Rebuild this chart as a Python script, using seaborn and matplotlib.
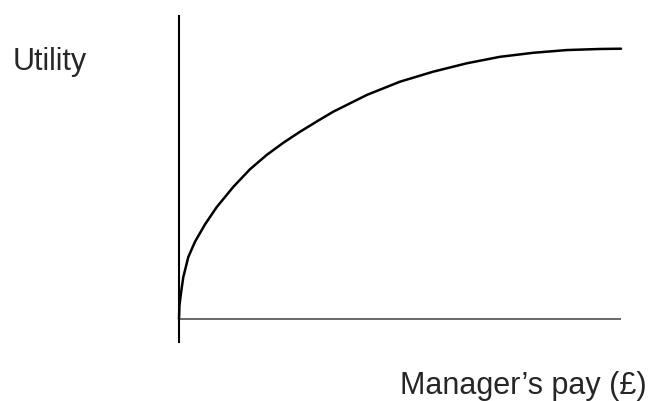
import matplotlib
matplotlib.use("Agg")
import matplotlib.pyplot as plt
import seaborn as sns

sns.set_style("white")
plt.rcParams["font.family"] = ["Liberation Sans", "DejaVu Sans"]

# concave utility curve (pay 0-100, utility 0-100)
pay = [0, 0.1, 0.45, 0.97, 2.1, 3.62, 5.88, 8.53, 12.29, 16.06, 19.84,
       23.6, 27.4, 31.5, 34.9, 42.5, 50.0, 57.5, 65.1, 72.6, 80.2, 87.7,
       95.2, 100]
utility = [0, 5.0, 9.6, 15.5, 22.9, 28.6, 35.0, 41.4, 48.9, 55.4, 60.7,
           65.2, 69.3, 73.4, 76.7, 82.9, 87.8, 91.5, 94.6, 97.0, 98.5, 99.5,
           99.9, 100]

W, H = 655, 401
fig = plt.figure(figsize=(W / 100, H / 100), dpi=100)
ax = fig.add_axes([179 / W, (H - 342) / H, (621 - 179) / W, (342 - 16) / H])

sns.lineplot(x=pay, y=utility, sort=False, color="black", linewidth=1.8,
             ax=ax, clip_on=False)
ax.axhline(0, color="#404040", linewidth=1.1)

ax.set_xlim(0, 100)
ax.set_ylim(-8.5, 112.1)
ax.set_xticks([])
ax.set_yticks([])
for side in ["top", "right", "bottom"]:
    ax.spines[side].set_visible(False)
ax.spines["left"].set_color("black")
ax.spines["left"].set_linewidth(1.5)
ax.set_facecolor("none")

fig.text(13 / W, (H - 70) / H, "Utility", fontsize=22, va="baseline", ha="left")
fig.text(400 / W, (H - 394) / H, "Manager\u2019s pay (\u00a3)", fontsize=22,
         va="baseline", ha="left")

fig.savefig("out.png", dpi=100, facecolor="white")
